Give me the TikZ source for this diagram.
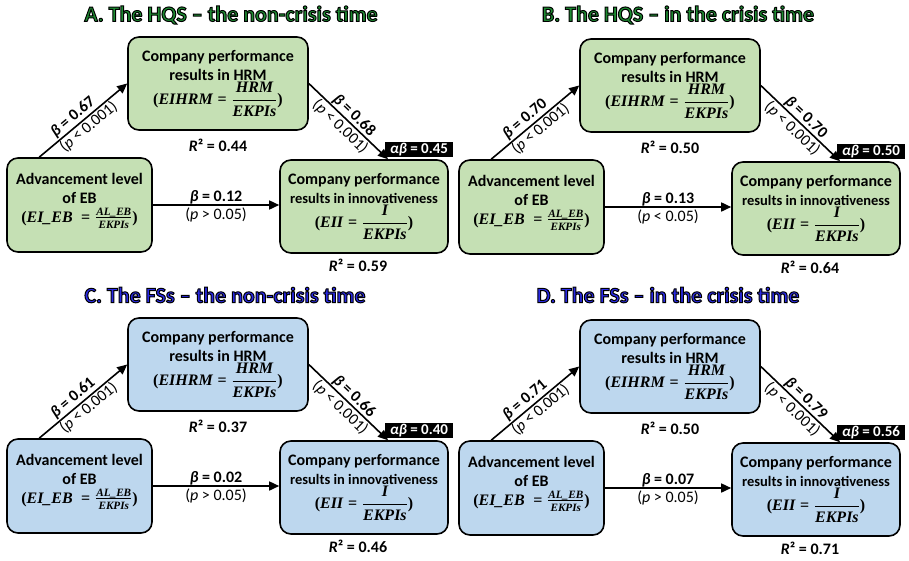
\documentclass[tikz,border=0pt]{standalone}
\usepackage{amsmath}
\usepackage[no-math]{fontspec}
\setmainfont{Carlito}
\newfontfamily\serf{Liberation Serif}
\usetikzlibrary{arrows.meta,calc}
\definecolor{fillG}{HTML}{C5E0B4}
\definecolor{fillB}{HTML}{BDD7EE}
\definecolor{titleG}{HTML}{1E8C32}
\definecolor{titleB}{HTML}{2A2AE6}
\newcommand\outl[1]{\special{pdf:literal 2 Tr 1 w 0 0 0 RG}#1\special{pdf:literal 0 Tr}}
\newcommand\vb[1]{\text{\serf\bfseries\itshape #1}}
\newcommand\eqs{\mathrel{\text{\serf\bfseries =}}}
\newcommand\pl{\text{\serf\bfseries (}}
\newcommand\pr{\text{\serf\bfseries )}}
\begin{document}
\begin{tikzpicture}[x=1pt,y=-1pt,
  box/.style={draw=black,line width=1.6pt,rounded corners=11pt,fill=pfill,align=center,inner sep=0pt,font=\fontsize{16}{19}\selectfont\bfseries},
  arr/.style={line width=1.6pt,-{Triangle[length=10pt,width=9pt]}},
  blab/.style={font=\fontsize{16}{19}\selectfont\bfseries,inner sep=1.5pt},
  plab/.style={font=\fontsize{16}{19}\selectfont,inner sep=0.5pt},
  ttl/.style={font=\fontsize{22}{26}\selectfont\bfseries,text=ptitle},
  abbox/.style={fill=black,text=white,font=\fontsize{15}{17}\selectfont\bfseries,inner xsep=2pt,inner ysep=1pt,minimum width=68pt,minimum height=15pt},
  rsq/.style={font=\fontsize{16}{19}\selectfont\bfseries}]
\useasboundingbox (0,0) rectangle (909,560);
\foreach \p/\sx/\sy/\sch/\tx/\ty/\ttl/\ba/\bb/\bc/\pc/\ab/\ra/\rb in {
  A/0/0/G/231/15/{A. The HQS – the non-crisis time}/0.67/0.68/0.12/>/0.45/0.44/0.59,
  B/452/2/G/226/13/{B. The HQS – in the crisis time}/0.70/0.70/0.13/</0.50/0.50/0.64,
  C/0/281/B/225/14/{C. The FSs – the non-crisis time}/0.61/0.66/0.02/>/0.40/0.37/0.46,
  D/452/283/B/216/12/{D. The FSs – in the crisis time}/0.71/0.79/0.07/>/0.56/0.50/0.71}{
  \colorlet{pfill}{fill\sch}\colorlet{ptitle}{title\sch}
  \begin{scope}[shift={(\sx,\sy)}]
    \node[ttl] (\p-t) at (\tx,\ty) {\outl{\ttl}};
    \node[box,minimum width=180pt,minimum height=93pt] (\p-hrm) at (218,83.5)
      {Company performance\\results in HRM\\$\pl\vb{EIHRM}\eqs\dfrac{\vb{HRM}}{\vb{EKPIs}}\pr$};
    \node[box,minimum width=145pt,minimum height=94pt,text depth=0pt] (\p-eb) at (79.5,205)
      {Advancement level\\of EB\\$\pl\vb{EI\_EB}\ \eqs\frac{\vb{AL\_EB}}{\vb{EKPIs}}\pr$\\[-4pt]\mbox{}};
    \node[box,minimum width=168pt,minimum height=93pt] (\p-in) at (364,206.5)
      {Company performance\\{\fontsize{14.5}{18}\selectfont results in innovativeness}\\$\pl\vb{EII}\eqs\dfrac{\vb{I}}{\vb{EKPIs}}\pr$};
    \node[rsq] (\p-r1) at (218,145) {\textit{R}² = \ra};
    \node[rsq] (\p-r2) at (358,265) {\textit{R}² = \rb};
    \draw[arr] ($(\p-eb.north west)+(33,0)$) -- (\p-hrm.west)
      node[sloped,above,pos=0.45,blab] {\textit{β} = \ba}
      node[sloped,below,pos=0.5,plab] {(\textit{p} < 0.001)};
    \draw[arr] (\p-hrm.east) -- ($(\p-in.north)+(24,0)$)
      node[sloped,above,pos=0.5,blab,inner sep=0.5pt] {\textit{β} = \bb}
      node[sloped,below,pos=0.48,plab,inner sep=1.5pt] {(\textit{p} < 0.001)};
    \draw[arr] (\p-eb.east) -- (\p-eb.east -| \p-in.west)
      node[midway,above,blab,inner sep=0.5pt] {\textit{β} = \bc}
      node[midway,below,plab,inner sep=2pt] {(\textit{p} \pc{} 0.05)};
    \node[abbox] (\p-ab) at (419,149.5) {\textit{αβ} = \ab};
  \end{scope}
}
\end{tikzpicture}
\end{document}
